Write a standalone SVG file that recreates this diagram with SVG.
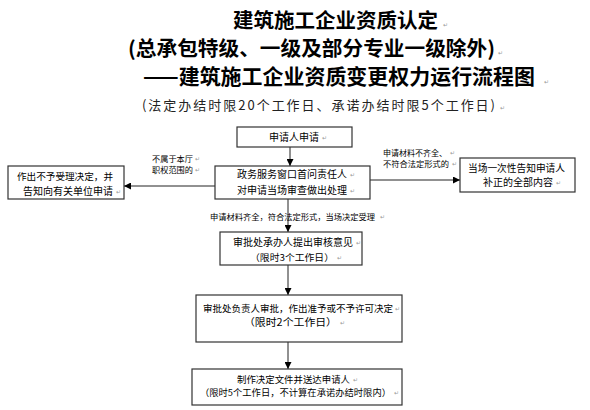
<svg xmlns="http://www.w3.org/2000/svg" width="590" height="410" viewBox="0 0 590 410">
<defs>
<marker id="ah" viewBox="0 0 10 10" refX="10" refY="5" markerWidth="7" markerHeight="7" markerUnits="userSpaceOnUse" orient="auto">
<path d="M0,0 L10,5 L0,10 z" fill="#000"/>
</marker>
<style>
.t{font-family:"Noto Sans CJK SC","Noto Sans",sans-serif;fill:#000}
.title{font-size:20px;font-weight:700}
.sub{font-size:13px;fill:#222}
.box{fill:#fff;stroke:#333;stroke-width:1.2}
.bt{font-size:10px}
.lb{font-size:8.2px}
.pm{font-family:"DejaVu Sans",sans-serif;font-size:6px;fill:#999}
.ln{stroke:#222;stroke-width:1;fill:none;marker-end:url(#ah)}
</style>
</defs>
<rect width="590" height="410" fill="#fff"/>
<g id="title">
<text class="t title" x="233" y="27.5" style="font-size:20px" textLength="205" lengthAdjust="spacingAndGlyphs">建筑施工企业资质认定</text><text class="pm" x="443" y="27">↵</text>
<text class="t title" x="128" y="55.5" style="font-size:20px" textLength="367" lengthAdjust="spacingAndGlyphs">(总承包特级、一级及部分专业一级除外)</text><text class="pm" x="498" y="54.5">↵</text>
<text class="t title" x="143" y="84" style="font-size:21px" textLength="392" lengthAdjust="spacingAndGlyphs">——建筑施工企业资质变更权力运行流程图</text><text class="pm" x="544" y="84">↵</text>
<text class="t sub" x="142" y="110" textLength="353" lengthAdjust="spacing">(法定办结时限20个工作日、承诺办结时限5个工作日)</text><text class="pm" x="500" y="110">↵</text>
</g>
<g id="connectors">
<line class="ln" x1="290" y1="147" x2="290" y2="166"/>
<line class="ln" x1="215" y1="186" x2="124" y2="186"/>
<line class="ln" x1="370" y1="180" x2="460" y2="180"/>
<line class="ln" x1="288" y1="199" x2="288" y2="232"/>
<line class="ln" x1="288" y1="265" x2="288" y2="295"/>
<line class="ln" x1="288" y1="342" x2="288" y2="369"/>
<text class="t lb" x="152" y="162" textLength="41" lengthAdjust="spacingAndGlyphs">不属于本厅</text><text class="pm" x="195" y="161">↵</text>
<text class="t lb" x="152" y="173" textLength="41" lengthAdjust="spacingAndGlyphs">职权范围的</text><text class="pm" x="195" y="172">↵</text>
<text class="t lb" x="383" y="156" style="font-size:8px" textLength="64" lengthAdjust="spacingAndGlyphs">申请材料不齐全、</text><text class="pm" x="450" y="155">↵</text>
<text class="t lb" x="383" y="167" textLength="66" lengthAdjust="spacingAndGlyphs">不符合法定形式的</text><text class="pm" x="452" y="166">↵</text>
<text class="t lb" x="210" y="220" textLength="165" lengthAdjust="spacingAndGlyphs">申请材料齐全，符合法定形式，当场决定受理</text><text class="pm" x="380" y="219">↵</text>
</g>
<g id="n1">
<rect class="box" x="237" y="127" width="115" height="20"/>
<text class="t bt" x="269" y="141" textLength="50" lengthAdjust="spacingAndGlyphs">申请人申请</text><text class="pm" x="322" y="140">↵</text>
</g>
<g id="n2">
<rect class="box" x="215" y="166" width="155" height="33"/>
<text class="t bt" x="237" y="178" textLength="110" lengthAdjust="spacingAndGlyphs">政务服务窗口首问责任人</text><text class="pm" x="350" y="177">↵</text>
<text class="t bt" x="237" y="194" textLength="110" lengthAdjust="spacingAndGlyphs">对申请当场审查做出处理</text><text class="pm" x="350" y="193">↵</text>
</g>
<g id="n3">
<rect class="box" x="8" y="166" width="116" height="33"/>
<text class="t bt" x="17" y="180" style="font-size:9.6px" textLength="96" lengthAdjust="spacingAndGlyphs">作出不予受理决定，并</text>
<text class="t bt" x="23" y="195" textLength="90" lengthAdjust="spacingAndGlyphs">告知向有关单位申请</text><text class="pm" x="116" y="194">↵</text>
</g>
<g id="n4">
<rect class="box" x="460" y="158" width="115" height="34"/>
<text class="t bt" x="468" y="172" style="font-size:9.7px" textLength="97" lengthAdjust="spacingAndGlyphs">当场一次性告知申请人</text>
<text class="t bt" x="483" y="186" textLength="70" lengthAdjust="spacingAndGlyphs">补正的全部内容</text><text class="pm" x="556" y="185">↵</text>
</g>
<g id="n5">
<rect class="box" x="220" y="232" width="142" height="33"/>
<text class="t bt" x="233" y="246" textLength="120" lengthAdjust="spacingAndGlyphs">审批处承办人提出审核意见</text><text class="pm" x="356" y="245">↵</text>
<text class="t bt" x="250" y="261" style="font-size:9.3px" textLength="84" lengthAdjust="spacingAndGlyphs">（限时3个工作日）</text><text class="pm" x="337" y="260">↵</text>
</g>
<g id="n6">
<rect class="box" x="196" y="295" width="206" height="47"/>
<text class="t bt" x="203" y="312" style="font-size:9.5px" textLength="190" lengthAdjust="spacingAndGlyphs">审批处负责人审批，作出准予或不予许可决定</text><text class="pm" x="395" y="311">↵</text>
<text class="t bt" x="244" y="326" textLength="93" lengthAdjust="spacingAndGlyphs">（限时2个工作日）</text><text class="pm" x="340" y="325">↵</text>
</g>
<g id="n7">
<rect class="box" x="192" y="369" width="210" height="36"/>
<text class="t bt" x="237" y="382.5" style="font-size:9.4px" textLength="113" lengthAdjust="spacingAndGlyphs">制作决定文件并送达申请人</text><text class="pm" x="353" y="381.5">↵</text>
<text class="t bt" x="200" y="396" style="font-size:9.1px" textLength="191" lengthAdjust="spacingAndGlyphs">（限时5个工作日，不计算在承诺办结时限内）</text><text class="pm" x="394" y="395">↵</text>
</g>
</svg>
